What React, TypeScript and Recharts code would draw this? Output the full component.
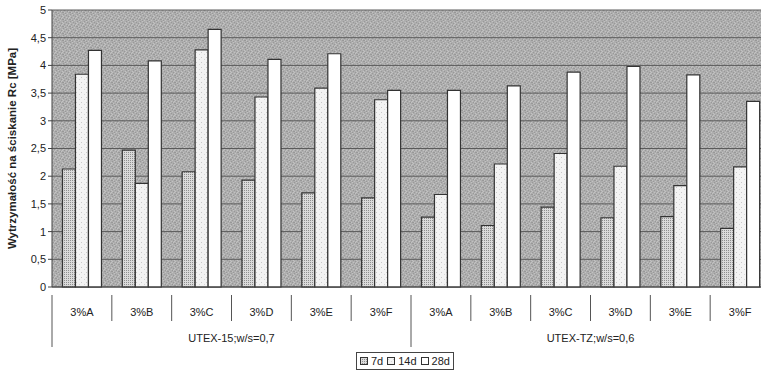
import React from 'react';
import { BarChart, Bar, XAxis, YAxis, CartesianGrid } from 'recharts';

// Sample categories (admixture variant) and the mix group each belongs to
const categories = ['3%A', '3%B', '3%C', '3%D', '3%E', '3%F', '3%A', '3%B', '3%C', '3%D', '3%E', '3%F'];
const groups = ['UTEX-15;w/s=0,7', 'UTEX-TZ;w/s=0,6'];
const groupSize = 6;

// Compressive strength Rc [MPa] after 7, 14 and 28 days
const rc7d = [2.13, 2.47, 2.08, 1.93, 1.7, 1.61, 1.26, 1.11, 1.44, 1.25, 1.27, 1.06];
const rc14d = [3.84, 1.87, 4.28, 3.43, 3.59, 3.38, 1.67, 2.22, 2.41, 2.18, 1.83, 2.17];
const rc28d = [4.27, 4.08, 4.65, 4.11, 4.21, 3.55, 3.55, 3.63, 3.88, 3.98, 3.83, 3.35];

const yTicks = [0, 0.5, 1, 1.5, 2, 2.5, 3, 3.5, 4, 4.5, 5];
const seriesNames = ['7d', '14d', '28d'];

const data = categories.map((cat, i) => ({
  key: `${cat}-${i}`,
  cat,
  group: groups[Math.floor(i / groupSize)],
  d7: rc7d[i],
  d14: rc14d[i],
  d28: rc28d[i],
}));

const CHART_W = 790;
const CHART_H = 378;
const MARGIN = { top: 10, right: 20, bottom: 0, left: 0 };
const Y_AXIS_W = 52;
const X_AXIS_H = 91;
const PLOT_W = CHART_W - MARGIN.left - MARGIN.right - Y_AXIS_W;
const BAND = PLOT_W / categories.length;

const FONT = 'Arial, "Liberation Sans", sans-serif';

const fills = {
  d7: 'url(#fill7d)',
  d14: 'url(#fill14d)',
  d28: '#ffffff',
};

// Speckle offsets for the plot-area texture (7x7 tile)
const bgDark = [[0, 0], [3, 1], [5, 2], [1, 3], [4, 4], [6, 5], [2, 6], [0, 5]];
const bgLight = [[2, 0], [6, 1], [0, 2], [3, 3], [5, 4], [1, 5], [4, 6], [6, 3]];

const Patterns = () => (
  <svg width={0} height={0} style={{ position: 'absolute' }}>
    <defs>
      <pattern id="plotBg" width={7} height={7} patternUnits="userSpaceOnUse">
        <rect width={7} height={7} fill="#aeaeae" />
        {bgDark.map(([x, y], i) => (
          <rect key={`d${i}`} x={x} y={y} width={1} height={1} fill="#989898" />
        ))}
        {bgLight.map(([x, y], i) => (
          <rect key={`l${i}`} x={x} y={y} width={1} height={1} fill="#c2c2c2" />
        ))}
      </pattern>
      <pattern id="fill7d" width={2} height={2} patternUnits="userSpaceOnUse">
        <rect width={2} height={2} fill="#dadada" />
        <rect x={0} y={0} width={1} height={1} fill="#8e8e8e" />
      </pattern>
      <pattern id="fill14d" width={5} height={5} patternUnits="userSpaceOnUse">
        <rect width={5} height={5} fill="#f3f3f3" />
        <rect x={1} y={2} width={1} height={1} fill="#c8c8c8" />
        <rect x={4} y={4} width={1} height={1} fill="#d6d6d6" />
      </pattern>
    </defs>
  </svg>
);

const CategoryTick = (props: any) => {
  const { x, y, payload } = props;
  const idx: number = payload.index;
  const left = x - BAND / 2;
  const groupStart = idx % groupSize === 0;
  const groupCenter = idx % groupSize === groupSize / 2;
  return (
    <g>
      <line
        x1={left}
        x2={left}
        y1={y}
        y2={groupStart ? y + 52 : y + 26}
        stroke="#555"
        strokeWidth={1}
      />
      <text x={x} y={y + 21} textAnchor="middle" fontSize={11} fontFamily={FONT} fill="#222">
        {categories[idx]}
      </text>
      {groupCenter && (
        <text x={left} y={y + 47} textAnchor="middle" fontSize={11} fontFamily={FONT} fill="#222">
          {data[idx].group}
        </text>
      )}
    </g>
  );
};

const YLabel = (props: any) => {
  const vb = props.viewBox || {};
  const cx = 12;
  const cy = (vb.y ?? 10) + (vb.height ?? 277) / 2;
  return (
    <text
      x={cx}
      y={cy}
      transform={`rotate(-90, ${cx}, ${cy})`}
      textAnchor="middle"
      dominantBaseline="central"
      fontSize={11.5}
      fontWeight="bold"
      fontFamily={FONT}
      fill="#222"
    >
      Wytrzymałość na ściskanie Rc [MPa]
    </text>
  );
};

const LegendBox = () => (
  <div
    style={{
      position: 'absolute',
      left: 356,
      top: 352,
      height: 16,
      padding: '0 3px',
      border: '1px solid #444',
      background: '#fff',
      display: 'flex',
      alignItems: 'center',
      gap: 4,
      fontFamily: FONT,
      fontSize: 11,
      color: '#222',
      lineHeight: '16px',
    }}
  >
    {seriesNames.map((name, i) => (
      <span key={name} style={{ display: 'flex', alignItems: 'center', gap: 3 }}>
        <svg width={8} height={8}>
          <rect
            x={0.5}
            y={0.5}
            width={7}
            height={7}
            fill={i === 0 ? 'url(#fill7d)' : i === 1 ? 'url(#fill14d)' : '#fff'}
            stroke="#333"
            strokeWidth={1}
          />
        </svg>
        {name}
      </span>
    ))}
  </div>
);

export default function App() {
  return (
    <div
      style={{
        position: 'absolute',
        left: 0,
        top: 0,
        width: 761,
        height: 378,
        overflow: 'hidden',
        background: '#ffffff',
      }}
    >
      <Patterns />
      <BarChart
        width={CHART_W}
        height={CHART_H}
        data={data}
        margin={MARGIN}
        barCategoryGap="17.5%"
        barGap={0}
      >
        <CartesianGrid
          vertical={false}
          stroke="#5a5a5a"
          strokeWidth={1}
          fill="url(#plotBg)"
          fillOpacity={1}
        />
        <XAxis
          dataKey="key"
          height={X_AXIS_H}
          interval={0}
          tickLine={false}
          axisLine={{ stroke: '#444' }}
          tick={(p: any) => <CategoryTick {...p} />}
        />
        <YAxis
          width={Y_AXIS_W}
          domain={[0, 5]}
          ticks={yTicks}
          interval={0}
          tickSize={4}
          tickMargin={2}
          axisLine={{ stroke: '#444' }}
          tickLine={{ stroke: '#444' }}
          tick={{ fontSize: 11, fontFamily: FONT, fill: '#222' }}
          tickFormatter={(v: number) => String(v).replace('.', ',')}
          label={<YLabel />}
        />
        <Bar dataKey="d7" name={seriesNames[0]} fill={fills.d7} stroke="#333" strokeWidth={1.2} isAnimationActive={false} />
        <Bar dataKey="d14" name={seriesNames[1]} fill={fills.d14} stroke="#333" strokeWidth={1.2} isAnimationActive={false} />
        <Bar dataKey="d28" name={seriesNames[2]} fill={fills.d28} stroke="#333" strokeWidth={1.2} isAnimationActive={false} />
      </BarChart>
      <LegendBox />
    </div>
  );
}
